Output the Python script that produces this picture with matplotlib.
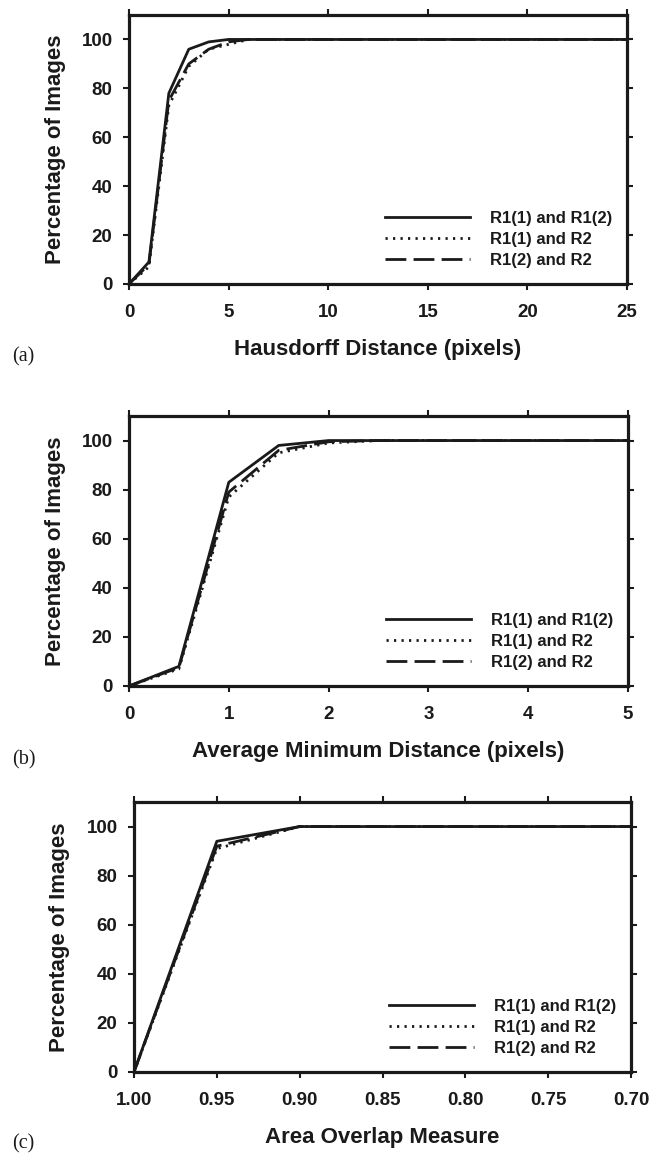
import matplotlib.pyplot as plt

# (a) Hausdorff distance
haus_x = [0, 1, 2, 3, 4, 5, 6, 10, 15, 20, 25]
haus_r11_r12 = [0, 9, 78, 96, 99, 100, 100, 100, 100, 100, 100]
haus_r11_r2 = [0, 7, 73, 89, 96, 98, 100, 100, 100, 100, 100]
haus_r12_r2 = [0, 8, 75, 90, 96, 99, 100, 100, 100, 100, 100]

# (b) average minimum distance
amd_x = [0, 0.5, 1, 1.5, 2, 2.5, 3, 4, 5]
amd_r11_r12 = [0, 8, 83, 98, 100, 100, 100, 100, 100]
amd_r11_r2 = [0, 7, 77, 95, 99, 100, 100, 100, 100]
amd_r12_r2 = [0, 7.5, 79, 96, 99.5, 100, 100, 100, 100]

# (c) area overlap
aom_x = [1.00, 0.95, 0.90, 0.85, 0.80, 0.75, 0.70]
aom_r11_r12 = [0, 94, 100, 100, 100, 100, 100]
aom_r11_r2 = [0, 91, 100, 100, 100, 100, 100]
aom_r12_r2 = [0, 92, 100, 100, 100, 100, 100]

labels = ["R1(1) and R1(2)", "R1(1) and R2", "R1(2) and R2"]

plt.rcParams['font.family'] = ['Liberation Sans', 'DejaVu Sans']
plt.rcParams['font.weight'] = 'bold'

W, H = 661, 1153
fig = plt.figure(figsize=(W / 100, H / 100), dpi=100)
cor = '#1a1a1a'

def painel(pos, x, s1, s2, s3, xlim, xticks, xticklabels, xlabel, letra, ly):
    ax = fig.add_axes(pos)
    ax.plot(x, s1, color=cor, lw=2.0, label=labels[0])
    ax.plot(x, s2, color=cor, lw=2.0, ls=(0, (0.8, 1.9)), label=labels[1])
    ax.plot(x, s3, color=cor, lw=2.0, ls=(0, (7.5, 2.6)), label=labels[2])
    ax.set_xlim(*xlim)
    ax.set_ylim(0, 110)
    ax.set_xticks(xticks)
    ax.set_xticklabels(xticklabels)
    ax.set_yticks([0, 20, 40, 60, 80, 100])
    ax.tick_params(direction='out', length=4.3, width=1.5, labelsize=13.5,
                   top=True, right=True, colors=cor)
    ax.tick_params(axis='x', pad=10)
    ax.tick_params(axis='y', pad=7.5)
    for sp in ax.spines.values():
        sp.set_linewidth(2.3)
        sp.set_color(cor)
    axw = pos[2] * W
    axh = pos[3] * H
    ax.set_xlabel(xlabel, fontsize=16, fontweight='bold', color=cor, va='center')
    ax.xaxis.set_label_coords(0.5, -65 / axh)
    ax.set_ylabel("Percentage of Images", fontsize=16, fontweight='bold', color=cor,
                  va='center', ha='center')
    ax.yaxis.set_label_coords(-74 / axw, 0.5)
    leg = ax.legend(loc='lower right', frameon=False, fontsize=12, handlelength=5.1,
                    handletextpad=1.2, labelspacing=0.38, bbox_to_anchor=(1.0, 0.003))
    for t in leg.get_texts():
        t.set_color(cor)
    fig.text(12 / W, ly, letra, family='Liberation Serif', fontweight='normal', fontsize=14.5,
             va='center', ha='left', color=cor)
    return ax

painel([129 / W, 1 - 284 / H, 498 / W, 269 / H], haus_x, haus_r11_r12, haus_r11_r2, haus_r12_r2,
       (0, 25), [0, 5, 10, 15, 20, 25], ['0', '5', '10', '15', '20', '25'],
       "Hausdorff Distance (pixels)", "(a)", 1 - 357 / H)

painel([129 / W, 1 - 686 / H, 499 / W, 270 / H], amd_x, amd_r11_r12, amd_r11_r2, amd_r12_r2,
       (0, 5), [0, 1, 2, 3, 4, 5], ['0', '1', '2', '3', '4', '5'],
       "Average Minimum Distance (pixels)", "(b)", 1 - 760 / H)

painel([134 / W, 1 - 1072 / H, 497 / W, 270 / H], aom_x, aom_r11_r12, aom_r11_r2, aom_r12_r2,
       (1.0, 0.70), aom_x, ['%.2f' % v for v in aom_x],
       "Area Overlap Measure", "(c)", 1 - 1144 / H)

fig.savefig("out.png", dpi=100)
